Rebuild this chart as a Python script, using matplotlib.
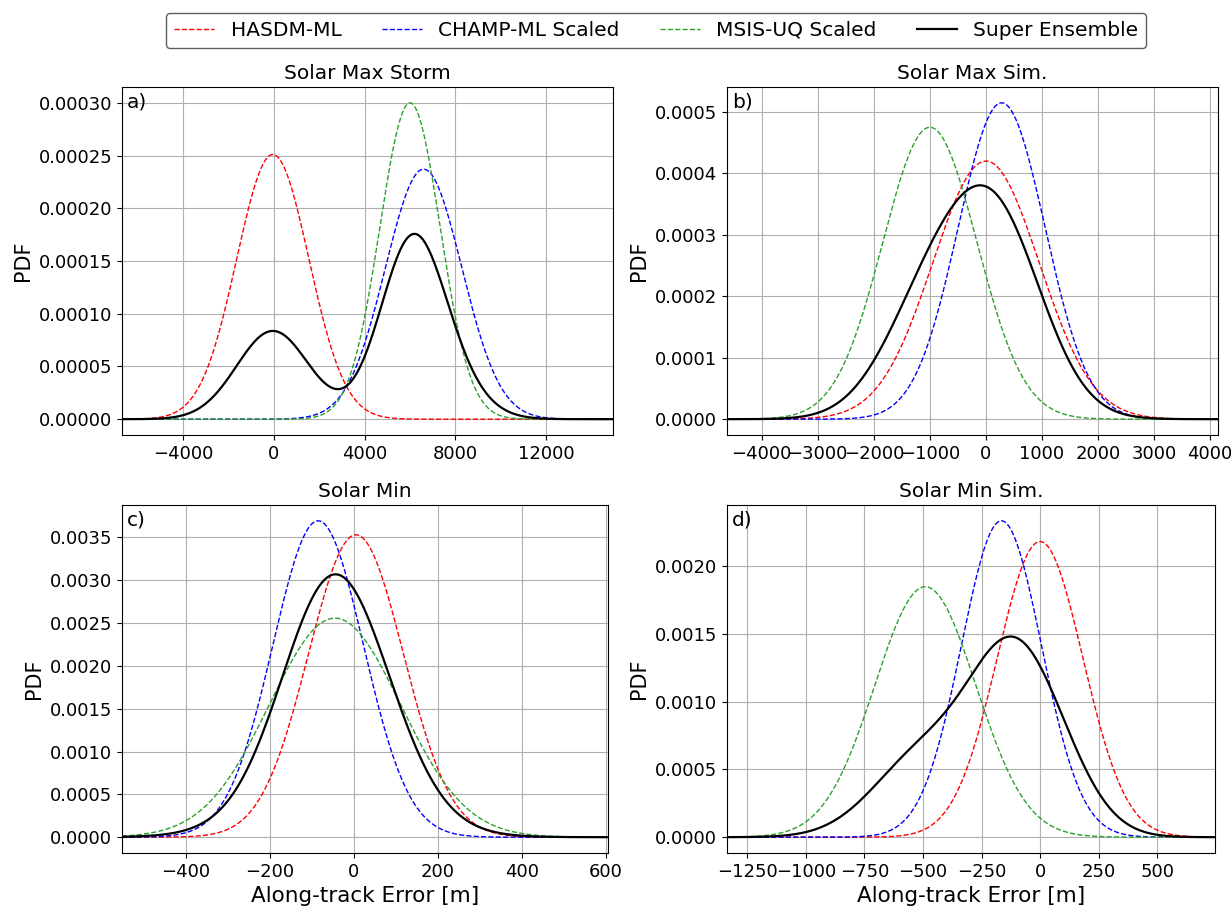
import numpy as np
import matplotlib
matplotlib.use("Agg")
import matplotlib.pyplot as plt
from matplotlib.ticker import MultipleLocator

# Gaussian fits per model (mean, std in metres)
panel_titles = ["Solar Max Storm", "Solar Max Sim.", "Solar Min", "Solar Min Sim."]
panel_tags = ["a)", "b)", "c)", "d)"]
model_names = ["HASDM-ML", "CHAMP-ML Scaled", "MSIS-UQ Scaled"]
model_colors = ["red", "blue", "#2ca02c"]

hasdm_mean = [-50, 0, 5, 0]
hasdm_std = [1590, 950, 113, 183]
champ_mean = [6600, 280, -85, -165]
champ_std = [1683, 775, 108, 171]
msis_mean = [6000, -1000, -45, -490]
msis_std = [1330, 840, 156, 216]

x_limits = [(-6700, 14950), (-4620, 4140), (-552, 605), (-1337, 747)]
x_steps = [4000, 1000, 200, 250]
y_steps = [0.00005, 0.0001, 0.0005, 0.0005]
y_fmt = ["%.5f", "%.4f", "%.4f", "%.4f"]


def gauss(x, mu, sd):
    return np.exp(-0.5 * ((x - mu) / sd) ** 2) / (sd * np.sqrt(2 * np.pi))


fig = plt.figure(figsize=(12.31, 9.09), dpi=100)
W, H = 1231, 909
boxes = [(122, 613, 87, 435), (727, 1218, 87, 435),
         (122, 608, 505, 853), (727, 1215, 505, 853)]

handles = []
for i in range(4):
    l, r, t, b = boxes[i]
    ax = fig.add_axes([l / W, 1 - b / H, (r - l) / W, (b - t) / H])
    x = np.linspace(x_limits[i][0], x_limits[i][1], 1500)
    means = [hasdm_mean[i], champ_mean[i], msis_mean[i]]
    stds = [hasdm_std[i], champ_std[i], msis_std[i]]
    pdfs = []
    for name, c, mu, sd in zip(model_names, model_colors, means, stds):
        y = gauss(x, mu, sd)
        pdfs.append(y)
        h, = ax.plot(x, y, "--", color=c, lw=1.0, label=name)
        if i == 0:
            handles.append(h)
    ens = np.mean(pdfs, axis=0)
    h, = ax.plot(x, ens, color="black", lw=1.6, label="Super Ensemble")
    if i == 0:
        handles.append(h)

    ax.set_xlim(*x_limits[i])
    ax.xaxis.set_major_locator(MultipleLocator(x_steps[i]))
    ax.yaxis.set_major_locator(MultipleLocator(y_steps[i]))
    ax.yaxis.set_major_formatter(matplotlib.ticker.FormatStrFormatter(y_fmt[i]))
    ax.grid(True, color="#b0b0b0", lw=0.8)
    ax.tick_params(labelsize=13)
    ax.set_title(panel_titles[i], fontsize=14.5)
    ax.set_ylabel("PDF", fontsize=15)
    if i >= 2:
        ax.set_xlabel("Along-track Error [m]", fontsize=15.5)
    ax.text(0.01, 0.985, panel_tags[i], transform=ax.transAxes,
            fontsize=14.5, va="top", ha="left")

leg = fig.legend(handles=handles, loc="upper center", bbox_to_anchor=(0.533, 0.997),
                 ncol=4, fontsize=14.5, columnspacing=2.0)
leg.get_frame().set_edgecolor("0.2")

plt.savefig("out.png")
